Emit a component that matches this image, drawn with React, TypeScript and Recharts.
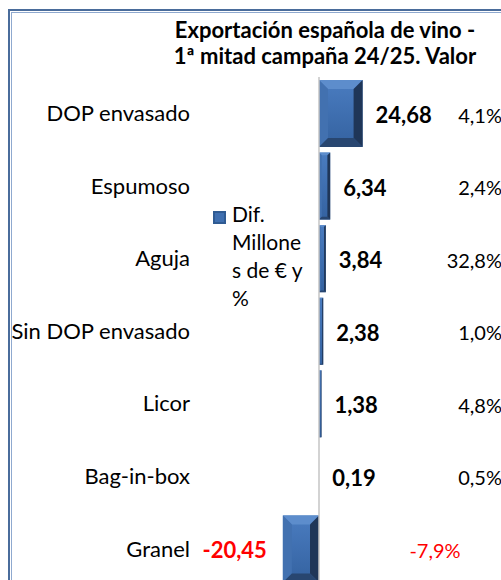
import { BarChart, Bar, XAxis, YAxis, ReferenceLine, LabelList, Legend } from 'recharts';

const categories = ['DOP envasado', 'Espumoso', 'Aguja', 'Sin DOP envasado', 'Licor', 'Bag-in-box', 'Granel'];
const difMillones = [24.68, 6.34, 3.84, 2.38, 1.38, 0.19, -20.45];
const difPct = [4.1, 2.4, 32.8, 1.0, 4.8, 0.5, -7.9];
const titleLines = ['Exportación española de vino -', '1ª mitad campaña 24/25. Valor'];
const legendLines = ['Dif.', 'Millone', 's de € y', '%'];

const data = categories.map((name, i) => ({ name, dif: difMillones[i], pct: difPct[i] }));

const W = 501;
const H = 590;
const FONT = 'Lato, "Open Sans", sans-serif';
const RED = '#ff0000';

const fmt = (v: number, d: number) => v.toFixed(d).replace('.', ',');

// bevelled bar like the Excel preset
function BevelBar(props: any) {
  const { x, y, width, height } = props;
  const left = Math.min(x, x + width);
  const top = Math.min(y, y + height);
  const w = Math.abs(width);
  const h = Math.abs(height);
  if (w < 0.6) return null;
  const b = Math.min(9, w / 4, h / 4);
  const r = left + w;
  const bt = top + h;
  return (
    <g>
      <rect x={left} y={top} width={w} height={h} fill="url(#barBody)" />
      <polygon points={`${left},${top} ${r},${top} ${r - b},${top + b} ${left + b},${top + b}`} fill="#5d8dcc" />
      <polygon points={`${left},${top} ${left + b},${top + b} ${left + b},${bt - b} ${left},${bt}`} fill="#4271b0" />
      <polygon points={`${r},${top} ${r},${bt} ${r - b},${bt - b} ${r - b},${top + b}`} fill="#1f3658" />
      <polygon points={`${left},${bt} ${r},${bt} ${r - b},${bt - b} ${left + b},${bt - b}`} fill="#284670" />
    </g>
  );
}

const renderDif = (props: any) => {
  const { x, y, width, height, value } = props;
  const left = Math.min(x, x + width);
  const right = Math.max(x, x + width);
  const neg = value < 0;
  return (
    <text
      x={neg ? left - 16 : right + 13}
      y={y + height / 2 + 1}
      textAnchor={neg ? 'end' : 'start'}
      dominantBaseline="central"
      fontFamily={FONT}
      fontWeight="bold"
      fontSize={22}
      fill={neg ? RED : '#000'}
    >
      {fmt(value, 2)}
    </text>
  );
};

const renderPct = (props: any) => {
  const { y, height, value } = props;
  const neg = value < 0;
  return (
    <text
      x={neg ? W - 66 : W + 1}
      y={y + height / 2 + 1}
      textAnchor={neg ? 'middle' : 'end'}
      dominantBaseline="central"
      fontFamily={FONT}
      fontSize={20}
      fill={neg ? RED : '#000'}
    >
      {fmt(value, 1)}%
    </text>
  );
};

const renderLegend = () => (
  <div style={{ display: 'flex', alignItems: 'flex-start', fontFamily: FONT, fontSize: 21, lineHeight: '28px', color: '#000' }}>
    <svg width={13} height={13} style={{ marginTop: 11, marginRight: 6, flex: 'none' }}>
      <rect x={0} y={0} width={13} height={13} fill="#2f5b93" />
      <rect x={2} y={2} width={9} height={9} fill="#3f6fb0" />
    </svg>
    <div>
      {legendLines.map((l) => (
        <div key={l} style={{ whiteSpace: 'nowrap' }}>{l}</div>
      ))}
    </div>
  </div>
);

export default function App() {
  return (
    <div style={{ position: 'absolute', left: 0, top: 0, width: W, height: 580, overflow: 'hidden', background: '#fff' }}>
      <div style={{ position: 'absolute', left: 8, top: 9, width: 600, height: 700, border: '2px solid #4a6c9b' }} />
      <div style={{ position: 'absolute', left: 11, top: 12, width: 600, height: 700, border: '1px solid #8fa9cf' }} />
      <div
        style={{
          position: 'absolute',
          left: 150,
          top: 17,
          width: 350,
          textAlign: 'center',
          fontFamily: FONT,
          fontWeight: 'bold',
          fontSize: 22,
          lineHeight: '26px',
          color: '#000',
        }}
      >
        {titleLines.map((t) => (
          <div key={t} style={{ whiteSpace: 'nowrap' }}>{t}</div>
        ))}
      </div>
      <div style={{ position: 'absolute', left: 0, top: 0 }}>
        <BarChart width={W} height={H} data={data} layout="vertical" margin={{ top: 77, right: 129, left: 10, bottom: 5 }}>
          <defs>
            <linearGradient id="barBody" x1="0" y1="0" x2="0" y2="1">
              <stop offset="0%" stopColor="#4a7cc0" />
              <stop offset="100%" stopColor="#3462a0" />
            </linearGradient>
          </defs>
          <XAxis type="number" domain={[-30, 30]} hide />
          <YAxis
            type="category"
            dataKey="name"
            width={256}
            axisLine={false}
            tickLine={false}
            tickSize={0}
            tickMargin={76}
            tick={{ fontFamily: FONT, fontSize: 22, fill: '#000' }}
            interval={0}
          />
          <Legend layout="vertical" align="center" verticalAlign="middle" content={renderLegend} wrapperStyle={{ left: 213, top: 200, width: 100 }} />
          <ReferenceLine x={0} stroke="#c4c4c4" strokeWidth={1.5} />
          <Bar dataKey="dif" name="Dif. Millones de € y %" barSize={67} shape={BevelBar} isAnimationActive={false}>
            <LabelList dataKey="dif" content={renderDif} />
            <LabelList dataKey="pct" content={renderPct} />
          </Bar>
        </BarChart>
      </div>
    </div>
  );
}
